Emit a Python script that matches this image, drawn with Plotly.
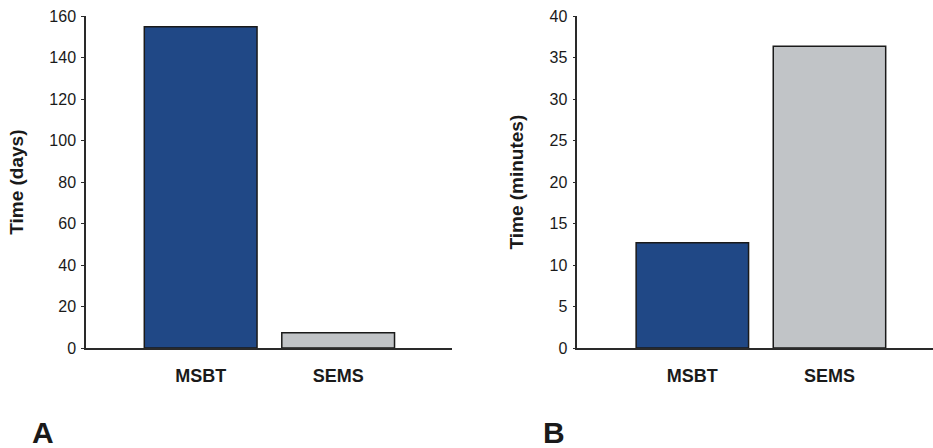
import plotly.graph_objects as go

categories = ["MSBT", "SEMS"]
days_values = [155, 7.4]
minutes_values = [12.7, 36.4]
bar_colors = ["#204886", "#c1c4c7"]
days_ticks = [0, 20, 40, 60, 80, 100, 120, 140, 160]
minutes_ticks = [0, 5, 10, 15, 20, 25, 30, 35, 40]

FONT = "Liberation Sans, Arial, sans-serif"
TXT = "#1a1a1a"

fig = go.Figure()
fig.add_trace(go.Bar(x=categories, y=days_values, width=0.82,
                     marker=dict(color=bar_colors, line=dict(color="#1a1a1a", width=1.5)),
                     xaxis="x", yaxis="y", showlegend=False))
fig.add_trace(go.Bar(x=categories, y=minutes_values, width=0.82,
                     marker=dict(color=bar_colors, line=dict(color="#1a1a1a", width=1.5)),
                     xaxis="x2", yaxis="y2", showlegend=False))

ydom = [1 - 348 / 448, 1 - 16.3 / 448]
xcommon = dict(showline=True, linecolor="#2a2a2a", linewidth=1.5, ticks="",
               tickfont=dict(family=FONT, size=18, color=TXT, weight="bold"),
               ticklabelstandoff=11, showgrid=False, zeroline=False, automargin=False)
ycommon = dict(showline=True, linecolor="#2a2a2a", linewidth=1.5, ticks="outside",
               ticklen=3, tickwidth=1.2, tickcolor="#2a2a2a",
               tickfont=dict(family=FONT, size=16, color=TXT),
               showgrid=False, zeroline=False, domain=ydom, ticklabelstandoff=2,
               automargin=False)

fig.update_layout(
    width=933, height=448,
    margin=dict(l=0, r=0, t=0, b=0),
    paper_bgcolor="white", plot_bgcolor="white",
    xaxis=dict(domain=[86 / 933, 452 / 933], range=[-0.834, 1.828], anchor="y", **xcommon),
    yaxis=dict(range=[0, 160], tickvals=days_ticks, anchor="x",
               title=dict(text="Time (days)", standoff=21,
                          font=dict(family=FONT, size=19, color=TXT, weight="bold")),
               **ycommon),
    xaxis2=dict(domain=[577.3 / 933, 1.0], range=[-0.839, 1.755], anchor="y2", **xcommon),
    yaxis2=dict(range=[0, 40], tickvals=minutes_ticks, anchor="x2",
                title=dict(text="Time (minutes)", standoff=21,
                           font=dict(family=FONT, size=19, color=TXT, weight="bold")),
                **ycommon),
    annotations=[
        dict(text="A", x=30 / 933, y=1 - 432 / 448, xref="paper", yref="paper",
             xanchor="left", yanchor="middle", showarrow=False,
             font=dict(family=FONT, size=30, color=TXT, weight="bold")),
        dict(text="B", x=541 / 933, y=1 - 432 / 448, xref="paper", yref="paper",
             xanchor="left", yanchor="middle", showarrow=False,
             font=dict(family=FONT, size=30, color=TXT, weight="bold")),
    ],
)

fig.write_html("out.html", config={"displayModeBar": False},
               post_script="document.body.style.margin='0';document.body.style.padding='0';")
